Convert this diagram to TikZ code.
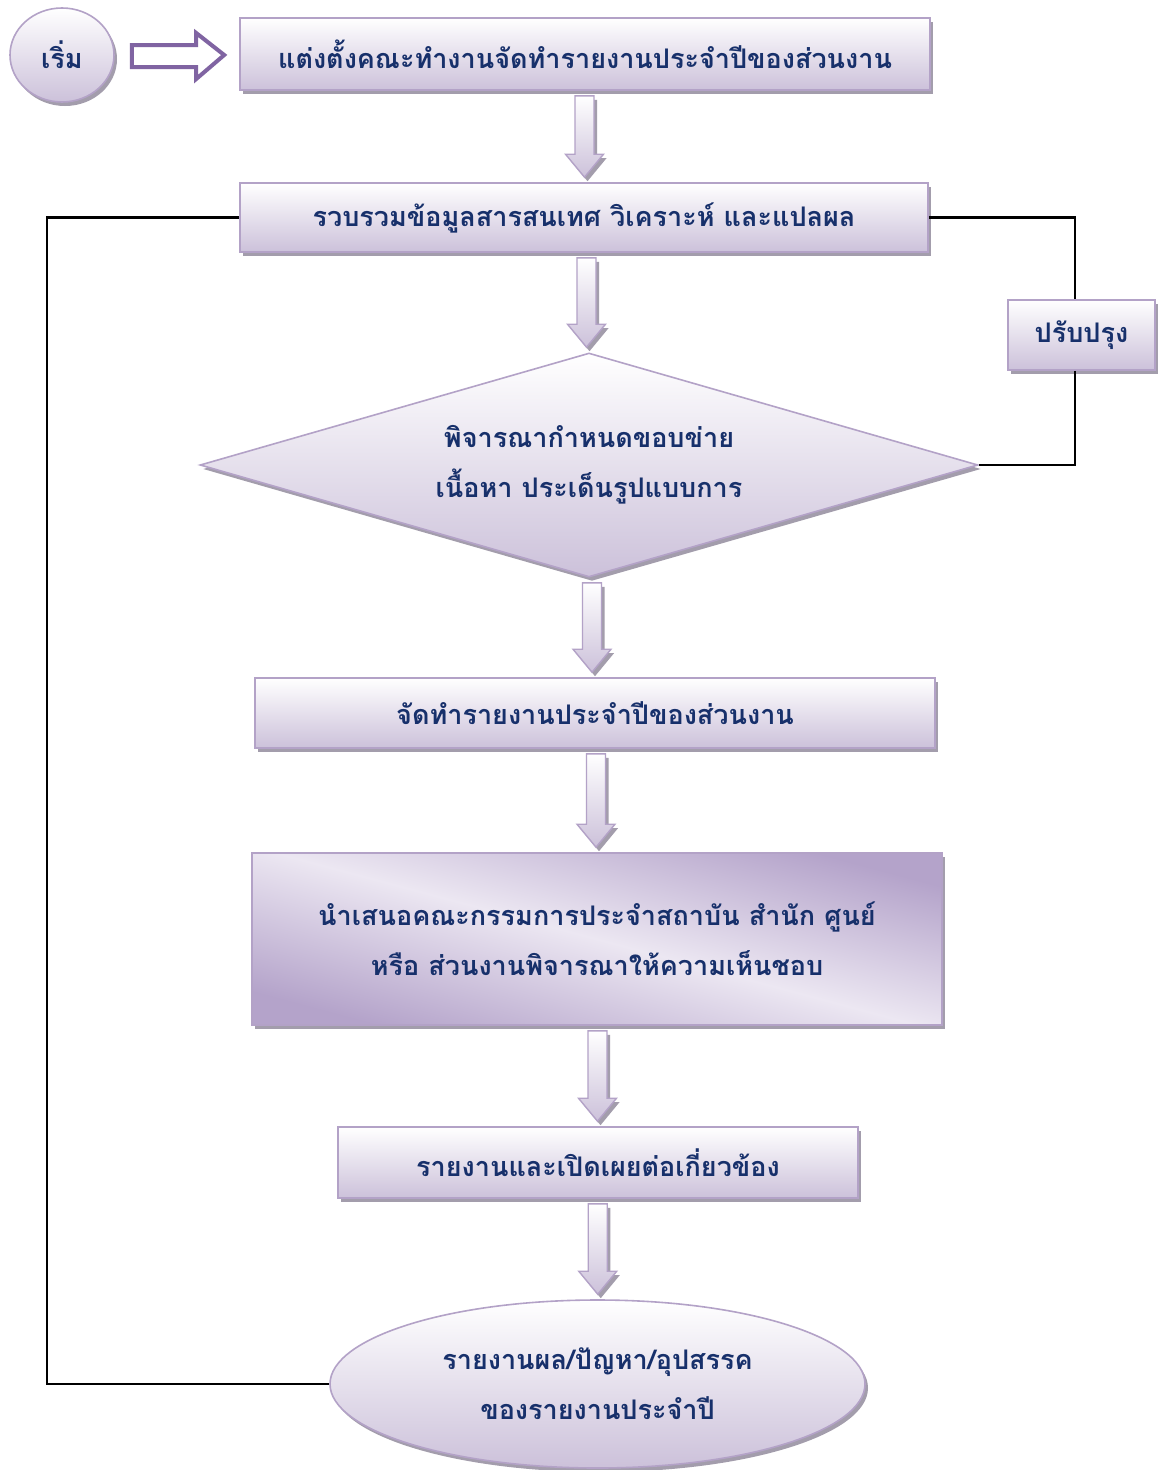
\documentclass[tikz,border=0pt]{standalone}
\usepackage{fontspec}
\newfontfamily\thaifont[Script=Thai]{Loma}
\usetikzlibrary{shapes.geometric,shadows,calc}
\definecolor{lavline}{HTML}{B3A2C7}
\definecolor{lavfill}{HTML}{CCC1DA}
\definecolor{lavdark}{HTML}{B4A3CA}
\definecolor{lavlight}{HTML}{ECE7F2}
\definecolor{shadowc}{HTML}{A39DAC}
\definecolor{navy}{HTML}{17306B}
\definecolor{arrowpurple}{HTML}{8064A2}
\tikzset{
  shad/.style={drop shadow={shadow xshift=3pt, shadow yshift=-4pt, fill=shadowc, opacity=1}},
  stepbox/.style={draw=lavline, line width=1.6pt, top color=white, bottom color=lavfill, shad,
    text=navy, font=\thaifont\bfseries\fontsize{27}{50}\selectfont, align=center, inner sep=0pt},
  conn/.style={draw=black, line width=2.6pt},
  blockarr/.style={draw=lavline, line width=1.4pt, top color=white, bottom color=lavfill, shad},
  hollowarr/.style={draw=arrowpurple, line width=4pt, fill=white, line join=miter},
  lbl/.style={text=navy, font=\thaifont\bfseries\fontsize{27}{50}\selectfont, align=center, inner sep=0pt}
}
\newcommand{\blockarrow}[2]{%
  \path[blockarr] let \p1=($(#1.south)!0.5!(#2.north)$), \p2=(#1.south), \p3=(#2.north) in
    (\x1-9.5pt,\y2-5pt) -- (\x1+9.5pt,\y2-5pt) -- (\x1+9.5pt,\y3+28pt) -- (\x1+19pt,\y3+28pt)
    -- (\x1,\y3+5pt) -- (\x1-19pt,\y3+28pt) -- (\x1-9.5pt,\y3+28pt) -- cycle;}
\begin{document}
\begin{tikzpicture}[x=1pt,y=-1pt]
\path[fill=white] (0,0) rectangle (1157,1470);
\useasboundingbox (0,0) rectangle (1157,1470);

\node[stepbox, ellipse, minimum width=104pt, minimum height=94pt] (start) at (62,55) {เริ่ม};
\node[stepbox, minimum width=690pt, minimum height=72pt] (b1) at (585,54) {แต่งตั้งคณะทำงานจัดทำรายงานประจำปีของส่วนงาน};
\node[stepbox, minimum width=688pt, minimum height=69pt] (b2) at (584,217.5) {รวบรวมข้อมูลสารสนเทศ วิเคราะห์ และแปลผล};
\node[stepbox, diamond, minimum width=778pt, minimum height=224pt, aspect=3.47] (dia) at (589,465) {};
\node[lbl] (diatext) at (dia.center) {พิจารณากำหนดขอบข่าย\\เนื้อหา ประเด็นรูปแบบการ};
\node[stepbox, minimum width=680pt, minimum height=70pt] (b3) at (595,713) {จัดทำรายงานประจำปีของส่วนงาน};
\node[stepbox, minimum width=690pt, minimum height=172pt, top color=lavdark, bottom color=lavdark, middle color=lavlight, shading angle=-15] (b4) at (597,939) {นำเสนอคณะกรรมการประจำสถาบัน สำนัก ศูนย์\\หรือ ส่วนงานพิจารณาให้ความเห็นชอบ};
\node[stepbox, minimum width=520pt, minimum height=71pt] (b5) at (598,1162.5) {รายงานและเปิดเผยต่อเกี่ยวข้อง};
\node[stepbox, ellipse, minimum width=535pt, minimum height=168pt] (fin) at (597.5,1384) {รายงานผล/ปัญหา/อุปสรรค\\ของรายงานประจำปี};
\node[stepbox, minimum width=147pt, minimum height=70pt] (pp) at (1081.5,335) {ปรับปรุง};

\blockarrow{b1}{b2}
\blockarrow{b2}{dia}
\blockarrow{dia}{b3}
\blockarrow{b3}{b4}
\blockarrow{b4}{b5}
\blockarrow{b5}{fin}

% hollow arrow from start to b1
\path[hollowarr] let \p1=(start.east), \p2=(b1.west) in
  (\x1+17pt,\y1+10pt) -- (\x2-43pt,\y1+10pt) -- (\x2-43pt,\y1+22pt) -- (\x2-15pt,\y1)
  -- (\x2-43pt,\y1-24pt) -- (\x2-43pt,\y1-12pt) -- (\x1+17pt,\y1-12pt) -- cycle;

\coordinate (rx) at (1075,0);
\coordinate (lx) at (47,0);
\draw[conn] (b2.east) -- (b2.east -| rx) -- (rx |- pp.north);
\draw[conn] (rx |- pp.south) -- (rx |- dia.east) -- (dia.east);
\draw[conn] (fin.west) -- (lx |- fin.west) -- (lx |- b2.west) -- (b2.west);
\end{tikzpicture}
\end{document}
